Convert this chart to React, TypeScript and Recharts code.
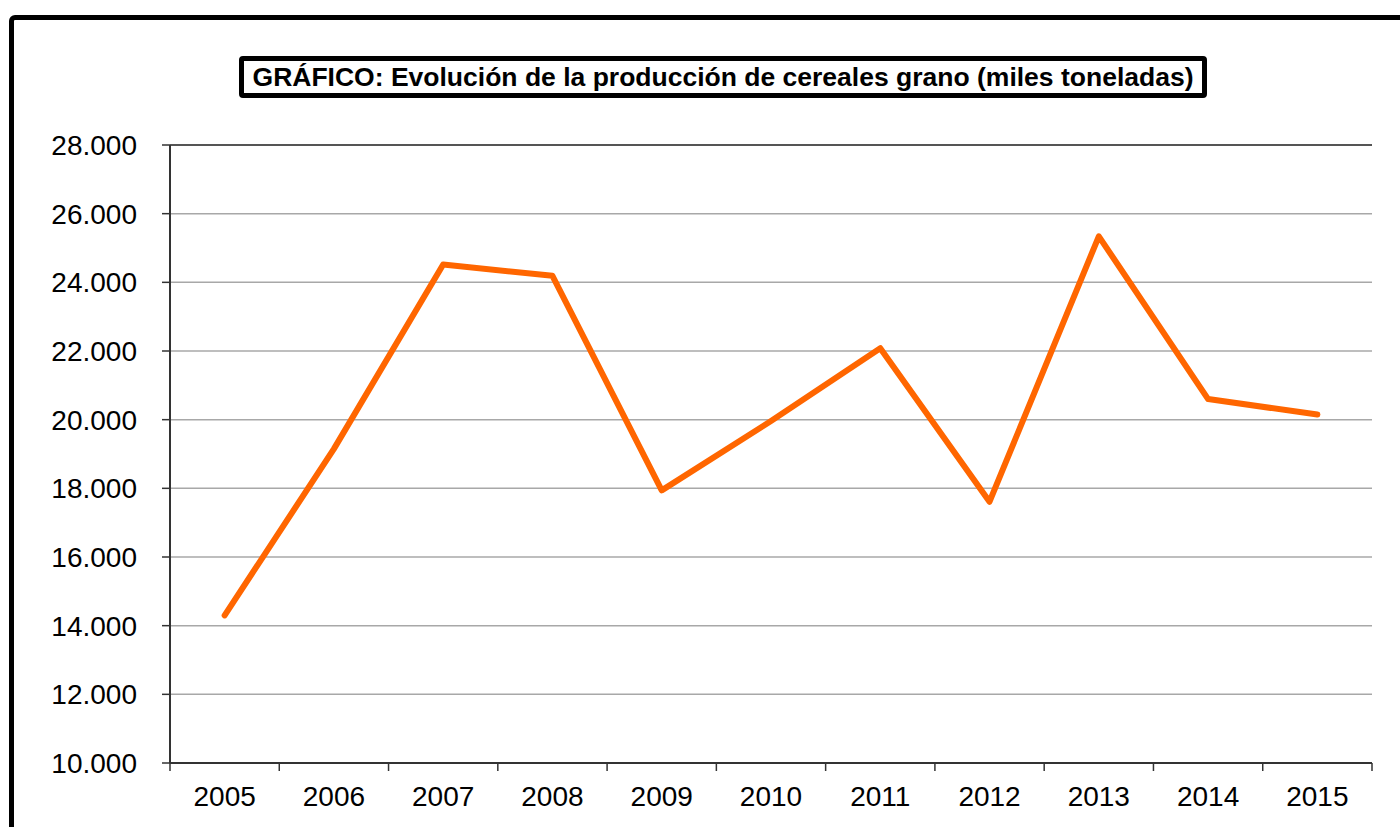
import {
  CartesianGrid,
  Line,
  LineChart,
  ReferenceLine,
  XAxis,
  YAxis,
} from "recharts";

const YEARS = ["2005", "2006", "2007", "2008", "2009", "2010", "2011", "2012", "2013", "2014", "2015"];
const PRODUCTION = [14300, 19150, 24520, 24190, 17940, 19960, 22080, 17610, 25340, 20600, 20150];
const Y_TICKS = [10000, 12000, 14000, 16000, 18000, 20000, 22000, 24000, 26000, 28000];

const TITLE = "GRÁFICO: Evolución de la producción de cereales grano (miles toneladas)";
const FONT = "Arial, 'Liberation Sans', sans-serif";
const X_LABEL_GAP = 23;
const X_TICK_LEN = 8;

const data = YEARS.map((year, i) => ({ year, value: PRODUCTION[i] }));

// "28.000" style, dot as thousands separator
const formatThousands = (v: number) =>
  String(v).replace(/\B(?=(\d{3})+(?!\d))/g, ".");

// label at the band centre, tick marks on the band edges (Excel style)
function YearTick(props: any) {
  const { x, y, payload, index, visibleTicksCount } = props;
  const half = payload?.offset ?? 0;
  const axisY = y - X_LABEL_GAP;
  const isLast = index === visibleTicksCount - 1;
  return (
    <g>
      <line
        x1={x - half}
        x2={x - half}
        y1={axisY}
        y2={axisY + X_TICK_LEN}
        stroke="#333"
        strokeWidth={1.5}
      />
      {isLast && (
        <line
          x1={x + half}
          x2={x + half}
          y1={axisY}
          y2={axisY + X_TICK_LEN}
          stroke="#333"
          strokeWidth={1.5}
        />
      )}
      <text
        x={x}
        y={y}
        dy="0.71em"
        textAnchor="middle"
        fill="#000"
        fontSize={28}
        fontFamily={FONT}
      >
        {payload.value}
      </text>
    </g>
  );
}

export default function App() {
  return (
    <div
      style={{
        position: "fixed",
        left: 0,
        top: 0,
        width: 1400,
        height: 827,
        overflow: "hidden",
        background: "#fff",
        fontFamily: FONT,
      }}
    >
      <div
        style={{
          position: "absolute",
          left: 9,
          top: 15,
          width: 1420,
          height: 900,
          border: "5px solid #000",
          borderRadius: 6,
          boxSizing: "border-box",
        }}
      />
      <div
        style={{
          position: "absolute",
          left: 239,
          top: 56,
          width: 968,
          height: 42,
          border: "5px solid #000",
          borderRadius: 4,
          boxSizing: "border-box",
          display: "flex",
          alignItems: "center",
          justifyContent: "center",
          fontWeight: "bold",
          fontSize: 26.5,
          color: "#000",
          whiteSpace: "nowrap",
        }}
      >
        {TITLE}
      </div>
      <div style={{ position: "absolute", left: 0, top: 0 }}>
        <LineChart
          width={1400}
          height={827}
          data={data}
          margin={{ top: 145, right: 28, left: 10, bottom: 0 }}
        >
          <CartesianGrid
            vertical={false}
            stroke="#a8a8a8"
            strokeWidth={1.5}
          />
          <XAxis
            dataKey="year"
            scale="band"
            height={64}
            axisLine={{ stroke: "#333", strokeWidth: 2 }}
            tickLine={false}
            tickSize={0}
            tickMargin={X_LABEL_GAP}
            interval={0}
            tick={<YearTick />}
          />
          <YAxis
            domain={[10000, 28000]}
            ticks={Y_TICKS}
            width={160}
            tickSize={8}
            tickMargin={25}
            tickFormatter={formatThousands}
            axisLine={{ stroke: "#333", strokeWidth: 2 }}
            tickLine={{ stroke: "#333", strokeWidth: 1.5 }}
            tick={{ fill: "#000", fontSize: 28, fontFamily: FONT }}
          />
          <YAxis
            yAxisId="right"
            orientation="right"
            width={0}
            tick={false}
            tickLine={false}
            axisLine={{ stroke: "#808080", strokeWidth: 2 }}
          />
          <ReferenceLine y={28000} stroke="#555" strokeWidth={2} />
          <Line
            dataKey="value"
            type="linear"
            stroke="#ff6600"
            strokeWidth={6}
            strokeLinecap="round"
            strokeLinejoin="round"
            dot={false}
            activeDot={false}
            isAnimationActive={false}
          />
        </LineChart>
      </div>
    </div>
  );
}
